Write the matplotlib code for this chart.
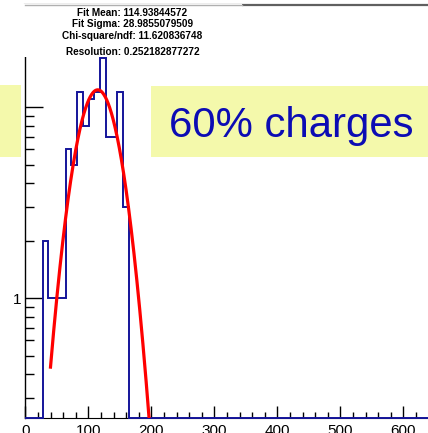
import numpy as np
import matplotlib
matplotlib.use('Agg')
import matplotlib.pyplot as plt
from matplotlib.patches import Rectangle
from matplotlib.lines import Line2D
from matplotlib.ticker import FixedLocator, FuncFormatter

# Histogram: 70 bins over [0, 640]
n_bins = 70
x_lo, x_hi = 0.0, 640.0
filled = {3: 2, 4: 1, 5: 1, 6: 1, 7: 6, 8: 5, 9: 12, 10: 8, 11: 11,
          12: 12, 13: 18, 14: 7, 15: 7, 16: 12, 17: 3}
counts = np.zeros(n_bins)
for b, c in filled.items():
    counts[b] = c

# Gaussian fit results
fit_mean = 114.93844572
fit_sigma = 28.9855079509
fit_amp = 12.3
fit_range = (40.0, 210.0)

stats_lines = ["Fit Mean: 114.93844572",
               "Fit Sigma: 28.9855079509",
               "Chi-square/ndf: 11.620836748",
               "Resolution: 0.252182877272"]
label = "60% charges"

x_ticks = [0, 100, 200, 300, 400, 500, 600]
y_lim = (0.2355, 34.4)

W, H = 428, 433
plt.rcParams['font.family'] = ['Liberation Sans', 'DejaVu Sans']
fig = plt.figure(figsize=(W / 100.0, H / 100.0), dpi=100)
fig.patch.set_facecolor('white')

# frame: x=0 at 25.3 px, 0.63 px per unit, bottom at 418 px, top at 4.5 px
ax = fig.add_axes([25.3 / W, (H - 418) / H, 700 * 0.63 / W, (418 - 4.5) / H])
ax.set_xlim(0, 700)
ax.set_yscale('log')
ax.set_ylim(*y_lim)

edges = np.linspace(x_lo, x_hi, n_bins + 1)
drawn = np.where(counts > 0, counts, y_lim[0])
ax.stairs(drawn, edges, baseline=None, color='#14149a', lw=1.4,
          clip_on=False, zorder=3)

xf = np.linspace(fit_range[0], fit_range[1], 300)
yf = fit_amp * np.exp(-0.5 * ((xf - fit_mean) / fit_sigma) ** 2)
ax.plot(xf, yf, color='red', lw=2.3, zorder=4)

ax.spines['right'].set_visible(False)
ax.spines['top'].set_color('#606060')
ax.spines['top'].set_linewidth(1.6)
ax.spines['left'].set_linewidth(1.0)

ax.xaxis.set_major_locator(FixedLocator(x_ticks))
ax.xaxis.set_minor_locator(FixedLocator(np.arange(0, 701, 20)))
ax.yaxis.set_major_locator(FixedLocator([1, 10]))
ax.yaxis.set_minor_locator(FixedLocator([0.3, 0.4, 0.5, 0.6, 0.7, 0.8, 0.9,
                                         2, 3, 4, 5, 6, 7, 8, 9, 20, 30]))
ax.yaxis.set_major_formatter(FuncFormatter(lambda v, p: '%g' % v))
ax.yaxis.set_minor_formatter(FuncFormatter(lambda v, p: ''))
ax.tick_params(axis='x', which='major', direction='in', length=9, width=1,
               labelsize=11, pad=4, top=False)
ax.tick_params(axis='x', which='minor', direction='in', length=4.5, width=1,
               top=False)
ax.tick_params(axis='y', which='major', direction='in', length=13, width=1,
               labelsize=11, pad=3, right=False)
ax.tick_params(axis='y', which='minor', direction='in', length=6.5, width=1,
               right=False)

# stats box on top of the frame
fig.patches.append(Rectangle((20 / W, 1 - 57 / H), 222 / W, 53 / H,
                             transform=fig.transFigure, facecolor='white',
                             edgecolor='none', zorder=5))
fig.lines.append(Line2D([25 / W, 242 / W], [1 - 4.5 / H, 1 - 4.5 / H],
                        transform=fig.transFigure, color='#b0b0b0', lw=1,
                        zorder=6))
for txt, yp in zip(stats_lines, [12.7, 24.0, 36.0, 51.7]):
    fig.text(132.5 / W, 1 - yp / H, txt, ha='center', va='center',
             fontsize=7.2, fontweight='bold', zorder=7)

# yellow label boxes
yellow = '#f4f9ab'
fig.patches.append(Rectangle((0, 1 - 157 / H), 21 / W, 72 / H,
                             transform=fig.transFigure, facecolor=yellow,
                             edgecolor='none', zorder=5))
fig.patches.append(Rectangle((151 / W, 1 - 157 / H), (W - 151) / W, 71 / H,
                             transform=fig.transFigure, facecolor=yellow,
                             edgecolor='none', zorder=5))
fig.text(169 / W, 1 - 136.7 / H, label, ha='left', va='baseline',
         fontsize=30.2, color='#0c0cb4', zorder=7)

fig.savefig('out.png', dpi=100)
